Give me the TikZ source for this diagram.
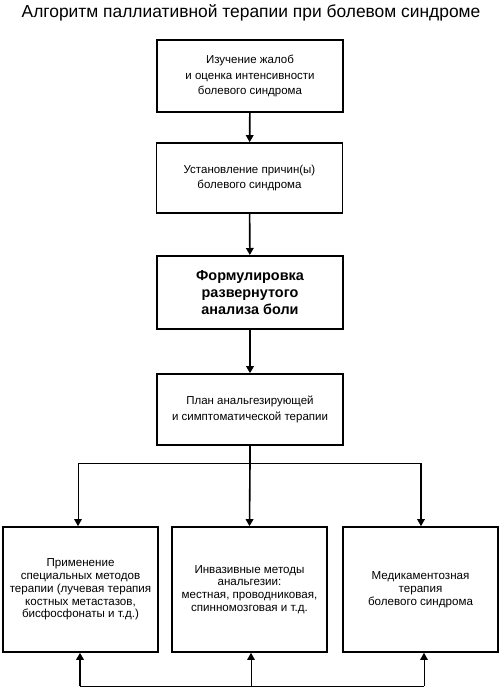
\documentclass[tikz,border=0pt]{standalone}
\usepackage{fontspec}
\setmainfont{Liberation Sans}
\usetikzlibrary{arrows.meta}
\begin{document}
\begin{tikzpicture}[x=1pt,y=-1pt,
  box/.style={draw,line width=1.6pt,align=center,inner sep=0pt},
  conn/.style={line width=1.6pt,-{Triangle[length=7pt,width=7.5pt]}},
  thin/.style={line width=1pt},
  txt/.style={font=\fontsize{11.5}{15.8}\selectfont},
  stxt/.style={font=\fontsize{11.6}{12.8}\selectfont}]
\useasboundingbox (0,0) rectangle (501,697);
\node[font=\fontsize{17.4}{19}\selectfont] (title) at (251,13) {Алгоритм паллиативной терапии при болевом синдроме};
\node[box,txt,minimum width=186pt,minimum height=72pt] (b1) at (250,76) {Изучение жалоб\\и оценка интенсивности\\болевого синдрома};
\node[box,txt,minimum width=186pt,minimum height=70pt] (b2) at (249.5,178) {Установление причин(ы)\\болевого синдрома};
\node[box,line width=2pt,minimum width=186pt,minimum height=73pt,font=\bfseries\fontsize{14.4}{16.8}\selectfont] (b3) at (250,292.5) {Формулировка\\развернутого\\анализа боли};
\node[box,txt,minimum width=186pt,minimum height=71pt] (b4) at (250,409.5) {План анальгезирующей\\и симптоматической терапии};
\node[box,stxt,minimum width=155pt,minimum height=125pt] (bl) at (80.5,589.5) {Применение\\специальных методов\\терапии (лучевая терапия\\костных метастазов,\\бисфосфонаты и т.д.)};
\node[box,stxt,minimum width=155pt,minimum height=125pt] (bm) at (249.5,589.5) {Инвазивные методы\\анальгезии:\\местная, проводниковая,\\спинномозговая и т.д.};
\node[box,stxt,minimum width=155pt,minimum height=125pt] (br) at (420.5,589.5) {Медикаментозная\\терапия\\болевого синдрома};
\draw[conn] (b1) -- (b2);
\draw[conn] (b2) -- (b3);
\draw[conn] (b3) -- (b4);
\coordinate (jm) at (250,463);
\coordinate (jl) at (78,463);
\coordinate (jr) at (421,463);
\draw[line width=1.6pt] (b4.south) -- (jm);
\draw[thin] (jl) -- (jr);
\draw[conn,line width=1pt] (jl) -- (jl |- bl.north);
\draw[conn] (jm) -- (bm.north);
\draw[conn,line width=1.3pt] (jr) -- (jr |- br.north);
\coordinate (ql) at (80,686);
\coordinate (qm) at (251,686);
\coordinate (qr) at (424,686);
\draw[thin] (ql) -- (qr);
\draw[conn] (ql) -- (ql |- bl.south);
\draw[conn,line width=1pt] (qm) -- (qm |- bm.south);
\draw[conn,line width=1pt] (qr) -- (qr |- br.south);
\end{tikzpicture}
\end{document}
